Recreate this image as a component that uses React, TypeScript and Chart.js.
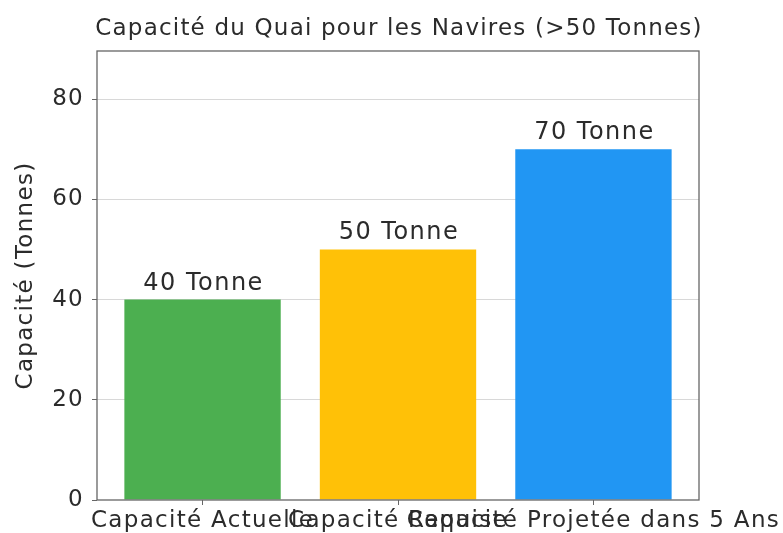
import React, { useEffect, useRef } from "react";
import { Chart, registerables } from "chart.js";

Chart.register(...registerables);

const categories = ["Capacité Actuelle", "Capacité Requise", "Capacité Projetée dans 5 Ans"];
const values = [40, 50, 70];
const valueLabels = ["40 Tonne", "50 Tonne", "70 Tonne"];
const barColors = ["#4CAF50", "#FFC107", "#2196F3"];
const yTicks = [0, 20, 40, 60, 80];
const titleText = "Capacité du Quai pour les Navires (>50 Tonnes)";
const yTitle = "Capacité (Tonnes)";

const FONT = "'DejaVu Sans', sans-serif";
const TEXT = "#2b2b2b";
const SPACING = "1.3px";

export default function App() {
  const ref = useRef<HTMLCanvasElement | null>(null);
  useEffect(() => {
    if (!ref.current) return;
    const spacingPlugin = {
      id: "spacing",
      beforeUpdate(chart: any) {
        chart.ctx.letterSpacing = SPACING;
      },
      beforeDraw(chart: any) {
        chart.ctx.letterSpacing = SPACING;
      },
    };
    const titlePlugin = {
      id: "titleDraw",
      afterDraw(chart: any) {
        const { ctx, chartArea } = chart;
        ctx.save();
        ctx.letterSpacing = "1.2px";
        ctx.font = `23px ${FONT}`;
        ctx.fillStyle = TEXT;
        ctx.textAlign = "center";
        ctx.textBaseline = "alphabetic";
        ctx.fillText(titleText, (chartArea.left + chartArea.right) / 2 + 1, 35);
        ctx.restore();
      },
    };
    const borderPlugin = {
      id: "borderBox",
      afterDatasetsDraw(chart: any) {
        const { ctx, chartArea } = chart;
        ctx.save();
        ctx.strokeStyle = "#666";
        ctx.lineWidth = 1.3;
        ctx.strokeRect(chartArea.left, chartArea.top, chartArea.right - chartArea.left, chartArea.bottom - chartArea.top);
        ctx.restore();
      },
    };
    const labelPlugin = {
      id: "valueLabels",
      afterDatasetsDraw(chart: any) {
        const { ctx } = chart;
        const meta = chart.getDatasetMeta(0);
        ctx.save();
        ctx.letterSpacing = "1.5px";
        ctx.font = `24px ${FONT}`;
        ctx.fillStyle = TEXT;
        ctx.textAlign = "center";
        ctx.textBaseline = "alphabetic";
        meta.data.forEach((bar: any, i: number) => {
          ctx.fillText(valueLabels[i], bar.x + 1, bar.y - 10);
        });
        ctx.restore();
      },
    };
    const chart = new Chart(ref.current, {
      type: "bar",
      data: {
        datasets: [
          {
            data: values.map((v, i) => ({ x: i, y: v })),
            backgroundColor: barColors,
            borderWidth: 0,
            barPercentage: 0.8,
            categoryPercentage: 1.0,
          },
        ],
      },
      plugins: [spacingPlugin, titlePlugin, borderPlugin, labelPlugin],
      options: {
        animation: false,
        responsive: false,
        devicePixelRatio: 1,
        layout: { padding: { top: 51, right: 84, left: 0, bottom: 0 } },
        plugins: { legend: { display: false }, tooltip: { enabled: false } },
        scales: {
          x: {
            type: "linear",
            min: -0.54,
            max: 2.54,
            offset: false,
            afterBuildTicks(scale: any) {
              scale.ticks = categories.map((_, i) => ({ value: i }));
            },
            grid: {
              offset: false,
              drawOnChartArea: false,
              drawTicks: true,
              tickLength: 5,
              tickColor: "#666",
            },
            border: { display: false },
            ticks: {
              autoSkip: false,
              maxRotation: 0,
              minRotation: 0,
              padding: 2,
              color: TEXT,
              font: { family: FONT, size: 23 },
              callback: (v: any) => categories[Math.round(Number(v))] ?? "",
            },
            afterFit(scale: any) {
              scale.height = 33;
              scale.paddingLeft = 0;
              scale.paddingRight = 0;
            },
          },
          y: {
            min: 0,
            max: 89.6,
            afterBuildTicks(scale: any) {
              scale.ticks = yTicks.map((v) => ({ value: v }));
            },
            grid: {
              color: (c: any) => (c.tick && c.tick.value === 0 ? "rgba(0,0,0,0)" : "#d8d8d8"),
              lineWidth: 1,
              borderDash: [2.5, 2.5],
              drawTicks: true,
              tickLength: 5,
              tickColor: "#666",
              tickBorderDash: [],
            },
            border: { display: false },
            ticks: {
              padding: 8,
              color: TEXT,
              font: { family: FONT, size: 23 },
            },
            title: {
              display: true,
              text: yTitle,
              color: TEXT,
              font: { family: FONT, size: 23 },
              padding: { top: 12, bottom: 0 },
            },
            afterFit(scale: any) {
              scale.width = 97;
              scale.paddingTop = 0;
              scale.paddingBottom = 0;
            },
          },
        },
      },
    });
    return () => chart.destroy();
  }, []);
  return (
    <div style={{ position: "fixed", left: 0, top: 0, width: 783, height: 533, background: "#fff" }}>
      <canvas ref={ref} width={783} height={533} style={{ width: 783, height: 533 }} />
    </div>
  );
}
